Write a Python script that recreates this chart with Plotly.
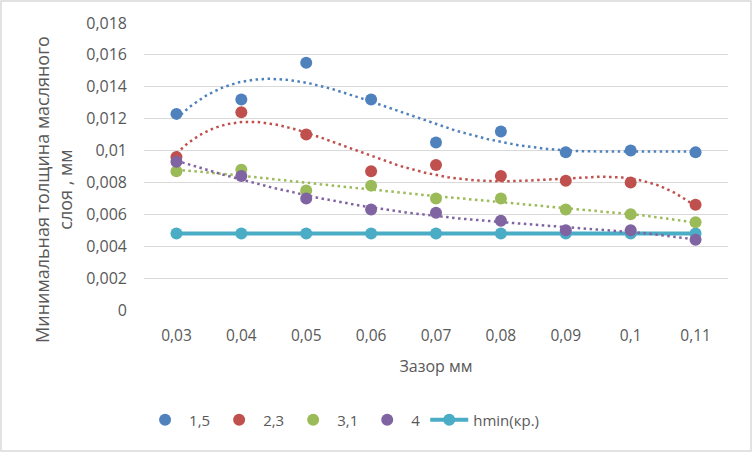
import numpy as np
import plotly.graph_objects as go

categories = ["0,03", "0,04", "0,05", "0,06", "0,07", "0,08", "0,09", "0,1", "0,11"]
s15 = [0.0123, 0.0132, 0.0155, 0.0132, 0.0105, 0.0112, 0.0099, 0.0100, 0.0099]
s23 = [0.0096, 0.0124, 0.0110, 0.0087, 0.0091, 0.0084, 0.0081, 0.0080, 0.0066]
s31 = [0.0087, 0.0088, 0.0075, 0.0078, 0.0070, 0.0070, 0.0063, 0.0060, 0.0055]
s4 = [0.0093, 0.0084, 0.0070, 0.0063, 0.0061, 0.0056, 0.0050, 0.0050, 0.0044]
hmin = [0.0048] * 9
y_ticks = [0, 0.002, 0.004, 0.006, 0.008, 0.01, 0.012, 0.014, 0.016, 0.018]
y_tick_text = ["0", "0,002", "0,004", "0,006", "0,008", "0,01", "0,012", "0,014", "0,016", "0,018"]

series = [("1,5", s15, "#4f81bd", 4), ("2,3", s23, "#c0504d", 4),
          ("3,1", s31, "#9bbb59", 4), ("4", s4, "#8064a2", 4)]

x = np.arange(len(categories))
xf = np.linspace(0, len(categories) - 1, 200)
font = "Open Sans"
grey = "#595959"

fig = go.Figure()
fig.add_trace(go.Scatter(x=x, y=hmin, mode="lines+markers", name="hmin(кр.)",
                         line=dict(color="#4bacc6", width=4),
                         marker=dict(size=12, color="#4bacc6"), legendrank=5))
for name, vals, col, deg in series:
    c = np.polyfit(x, vals, deg)
    fig.add_trace(go.Scatter(x=xf, y=np.polyval(c, xf), mode="lines", showlegend=False,
                             line=dict(color=col, width=2.5, dash="2.5px,3.5px"), hoverinfo="skip"))
for i, (name, vals, col, deg) in enumerate(series):
    fig.add_trace(go.Scatter(x=x, y=vals, mode="markers", name=name,
                             marker=dict(size=12, color=col), legendrank=i + 1))

W, H = 752, 452
l, r, t, b = 144, 24, 23, 142
pw, ph = W - l - r, H - t - b
fig.add_shape(type="rect", xref="paper", yref="paper",
              x0=-(l - 1) / pw, x1=1 + (r - 1) / pw, y0=-(b - 1) / ph, y1=1 + (t - 1) / ph,
              line=dict(color="#d9d9d9", width=1.5), layer="below")
fig.add_annotation(text="Минимальная толщина масляного<br>слоя , мм", textangle=-90,
                   xref="paper", yref="paper", x=(53 - l) / pw, y=(310 - 190) / ph,
                   xanchor="center", yanchor="middle", showarrow=False, align="center",
                   font=dict(size=18, color=grey, family=font))

fig.update_layout(
    width=W, height=H, margin=dict(l=l, r=r, t=t, b=b, autoexpand=False),
    paper_bgcolor="white", plot_bgcolor="white",
    font=dict(family=font, color=grey, size=15),
    xaxis=dict(range=[-0.5, 8.5], tickvals=list(x), ticktext=categories,
               showgrid=False, zeroline=False, ticks="", showline=False,
               tickfont=dict(size=15.5), ticklabelstandoff=14,
               title=dict(text="Зазор мм", font=dict(size=16, color=grey), standoff=16)),
    yaxis=dict(range=[0, 0.018], tickvals=y_ticks, ticktext=y_tick_text,
               gridcolor="#d9d9d9", gridwidth=1, zeroline=False, showline=False,
               ticks="", tickfont=dict(size=16), ticklabelstandoff=16),
    legend=dict(orientation="h", x=-0.005, xanchor="left", y=-0.383, yanchor="middle",
                font=dict(size=15, color=grey), itemwidth=38, traceorder="normal"),
    showlegend=True,
)
fig.write_html("out.html", config={"displayModeBar": False},
               post_script="document.body.style.margin='0';")
